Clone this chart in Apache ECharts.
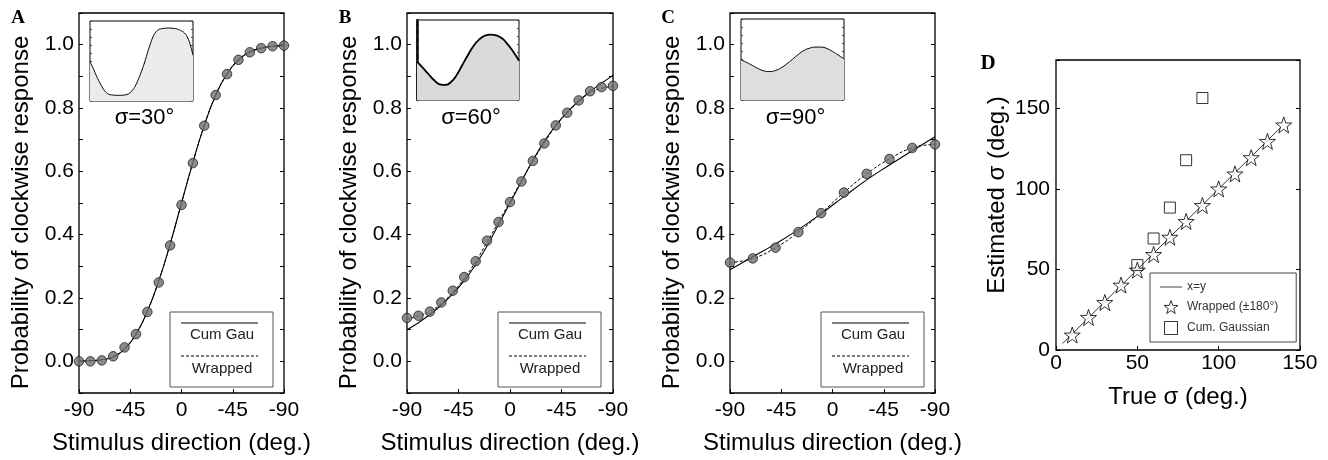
<!DOCTYPE html>
<html>
<head>
<meta charset="utf-8">
<script src="https://cdn.jsdelivr.net/npm/echarts@6/dist/echarts.min.js"></script>
<style>
html,body{margin:0;padding:0;background:#fff;}
#chart{width:1328px;height:460px;}
</style>
</head>
<body>
<div id="chart"></div>
<script>
// ---------------- DATA ----------------
const xTickValues = [-90, -45, 0, 45, 90];
const xTickLabels = ['-90', '-45', '0', '-45', '-90'];

const dirA = [-90,-80,-70,-60,-50,-40,-30,-20,-10,0,10,20,30,40,50,60,70,80,90];
const probA = [0.0,0.0,0.003,0.016,0.044,0.086,0.156,0.249,0.366,0.494,0.626,0.744,0.841,0.907,0.952,0.976,0.989,0.995,0.997];
const cumA  = [0.001,0.002,0.005,0.014,0.040,0.086,0.158,0.254,0.370,0.500,0.628,0.745,0.840,0.908,0.952,0.977,0.989,0.995,0.997];
const wrapA = [0.001,0.002,0.005,0.014,0.040,0.086,0.158,0.254,0.370,0.500,0.628,0.745,0.840,0.908,0.952,0.977,0.989,0.995,0.997];

const dirB = [-90,-80,-70,-60,-50,-40,-30,-20,-10,0,10,20,30,40,50,60,70,80,90];
const probB = [0.137,0.144,0.157,0.186,0.223,0.266,0.316,0.381,0.440,0.503,0.568,0.633,0.688,0.745,0.785,0.824,0.853,0.866,0.870];
const cumB  = [0.100,0.122,0.148,0.178,0.213,0.255,0.305,0.365,0.432,0.500,0.568,0.635,0.695,0.745,0.787,0.822,0.852,0.878,0.903];
const wrapB = [0.133,0.143,0.158,0.183,0.218,0.262,0.315,0.377,0.440,0.505,0.570,0.633,0.690,0.743,0.785,0.820,0.848,0.862,0.868];

const dirC = [-90,-70,-50,-30,-10,10,30,50,70,90];
const probC = [0.312,0.325,0.359,0.408,0.468,0.533,0.592,0.639,0.674,0.685];
const cumC  = [0.289,0.330,0.371,0.416,0.466,0.520,0.573,0.620,0.665,0.709];
const wrapC = [0.312,0.325,0.359,0.408,0.468,0.533,0.592,0.639,0.674,0.685];

const insetDegA = [-180,-170,-160,-150,-140,-130,-120,-110,-100,-90,-80,-70,-60,-50,-40,-30,-20,-10,0,10,20,30,40,50,60,70,80,90,100,110,120,130,140,150,160,170,180];
const insetA = [0.488,0.417,0.333,0.258,0.192,0.133,0.096,0.079,0.075,0.071,0.071,0.071,0.075,0.083,0.104,0.142,0.200,0.279,0.371,0.475,0.592,0.704,0.800,0.862,0.892,0.904,0.908,0.912,0.912,0.908,0.904,0.892,0.875,0.850,0.800,0.708,0.571];
const insetDeg = [-180,-160,-140,-120,-100,-80,-60,-40,-20,0,20,40,60,80,100,120,140,160,180];
const insetB = [0.479,0.404,0.325,0.250,0.196,0.188,0.225,0.313,0.438,0.563,0.679,0.758,0.804,0.817,0.808,0.771,0.696,0.604,0.490];
const insetC = [0.496,0.463,0.426,0.388,0.360,0.351,0.364,0.397,0.446,0.504,0.562,0.612,0.640,0.653,0.653,0.636,0.599,0.554,0.508];
const sigmaLabels = ['σ=30°', 'σ=60°', 'σ=90°'];
const panelLetters = ['A', 'B', 'C', 'D'];

const trueSigma = [10,20,30,40,50,60,70,80,90,100,110,120,130,140];
const estWrapped = [9.3,20.2,29.5,40.3,49.6,59.3,70.0,79.8,89.7,100.0,109.3,119.4,129.5,139.7];
const trueSigmaG = [50,60,70,80,90];
const estGauss = [52.7,69.2,88.4,117.8,156.4];
const identityX = [4,140];
const legendNamesD = ['x=y', 'Wrapped (±180°)', 'Cum. Gaussian'];
const legendNamesABC = ['Cum Gau', 'Wrapped'];

// ---------------- LAYOUT ----------------
const FONT = '"Liberation Sans", Arial, Helvetica, sans-serif';
const mainGrids = [
  {left: 79, top: 13, width: 205, height: 382},
  {left: 407, top: 13, width: 206, height: 382},
  {left: 730, top: 13, width: 205, height: 382}
];
const gridD = {left: 1056, top: 60, width: 244, height: 290};
const insetGrids = [
  {left: 90, top: 21, width: 103, height: 80},
  {left: 417, top: 20, width: 102, height: 80},
  {left: 741, top: 19, width: 103, height: 81}
];
const insetFill = ['#ebebeb', '#dadada', '#dedede'];
const insetLW = [1, 1.8, 1];

const zip = (xs, ys) => xs.map((x, i) => [x, ys[i]]);

const grids = [];
const xAxes = [];
const yAxes = [];
const series = [];
const graphics = [];
const noLine = {show: false, onZero: false};

// main panels A-C
mainGrids.forEach((g, i) => {
  grids.push(Object.assign({show: true, borderColor: '#000', borderWidth: 1.3, backgroundColor: 'transparent'}, g));
  xAxes.push({
    type: 'value', gridIndex: i, min: -90, max: 90, interval: 45, position: 'bottom',
    axisLine: noLine,
    axisTick: {show: true, inside: true, length: 4, lineStyle: {color: '#000'}},
    splitLine: {show: false},
    axisLabel: {fontSize: 21, color: '#000', fontFamily: FONT, margin: 7,
      formatter: v => { const k = xTickValues.indexOf(Math.round(v)); return k >= 0 ? xTickLabels[k] : ''; }},
    name: 'Stimulus direction (deg.)', nameLocation: 'middle', nameGap: 38,
    nameTextStyle: {fontSize: 24, color: '#000', fontFamily: FONT}
  });
});
// D
grids.push(Object.assign({show: true, borderColor: '#000', borderWidth: 1.3, backgroundColor: 'transparent'}, gridD));
xAxes.push({
  type: 'value', gridIndex: 3, min: 0, max: 150, interval: 50, position: 'bottom',
  axisLine: noLine,
  axisTick: {show: true, inside: true, length: 4, lineStyle: {color: '#000'}},
  splitLine: {show: false},
  axisLabel: {fontSize: 21, color: '#000', fontFamily: FONT, margin: 3},
  name: 'True σ (deg.)', nameLocation: 'middle', nameGap: 35,
  nameTextStyle: {fontSize: 24, color: '#000', fontFamily: FONT}
});
// insets
insetGrids.forEach((g, i) => {
  grids.push(Object.assign({show: true, borderColor: '#000', borderWidth: 1, backgroundColor: '#fff'}, g));
  xAxes.push({
    type: 'value', gridIndex: 4 + i, min: -180, max: 180, position: 'bottom',
    axisLine: noLine, axisTick: {show: false}, axisLabel: {show: false}, splitLine: {show: false}
  });
});

// y axes main A-C (0..2)
mainGrids.forEach((g, i) => {
  yAxes.push({
    type: 'value', gridIndex: i, min: -0.1, max: 1.1, interval: 0.1, position: 'left',
    axisLine: noLine,
    axisTick: {show: true, inside: true, length: 4, lineStyle: {color: '#000'}},
    splitLine: {show: false},
    axisLabel: {fontSize: 21, color: '#000', fontFamily: FONT, margin: 5,
      formatter: v => { const k = Math.round(v * 10); return (k % 2 === 0 && k >= 0 && k <= 10) ? (k / 10).toFixed(1) : ''; }},
    name: 'Probability of clockwise response', nameLocation: 'middle', nameGap: 46,
    nameTextStyle: {fontSize: 24, color: '#000', fontFamily: FONT, padding: [0, 19, 0, 0]}
  });
});
// y D (3)
yAxes.push({
  type: 'value', gridIndex: 3, min: 0, max: 180, interval: 50, position: 'left',
  axisLine: noLine,
  axisTick: {show: true, inside: true, length: 4, lineStyle: {color: '#000'}},
  splitLine: {show: false},
  axisLabel: {fontSize: 21, color: '#000', fontFamily: FONT, margin: 6,
    formatter: v => (Math.round(v) % 50 === 0 ? String(Math.round(v)) : '')},
  name: 'Estimated σ (deg.)', nameLocation: 'middle', nameGap: 47,
  nameTextStyle: {fontSize: 24, color: '#000', fontFamily: FONT, padding: [0, 0, 0, 20]}
});
// y insets (4..6)
insetGrids.forEach((g, i) => {
  yAxes.push({
    type: 'value', gridIndex: 4 + i, min: 0, max: 1, interval: 0.1, position: 'left',
    axisLine: {show: i === 1, onZero: false, lineStyle: {color: '#000', width: 2.5}},
    axisTick: {show: true, inside: true, length: 2, lineStyle: {color: '#444'}},
    axisLabel: {show: false}, splitLine: {show: false}
  });
});
// right-side tick axes for A-C (7..9)
mainGrids.forEach((g, i) => {
  yAxes.push({
    type: 'value', gridIndex: i, position: 'right', min: -0.1, max: 1.1, interval: 0.1,
    axisLine: noLine,
    axisTick: {show: true, inside: true, length: 4, lineStyle: {color: '#000'}},
    axisLabel: {show: false}, splitLine: {show: false}
  });
});
// right ticks D (10)
yAxes.push({
  type: 'value', gridIndex: 3, position: 'right', min: 0, max: 180, interval: 50,
  axisLine: noLine,
  axisTick: {show: true, inside: true, length: 4, lineStyle: {color: '#000'}},
  axisLabel: {show: false}, splitLine: {show: false}
});
// right ticks insets (11..13)
insetGrids.forEach((g, i) => {
  yAxes.push({
    type: 'value', gridIndex: 4 + i, position: 'right', min: 0, max: 1, interval: 0.1,
    axisLine: noLine,
    axisTick: {show: true, inside: true, length: 2, lineStyle: {color: '#444'}},
    axisLabel: {show: false}, splitLine: {show: false}
  });
});

// series A-C
const panelData = [
  {dir: dirA, prob: probA, cum: cumA, wrap: wrapA},
  {dir: dirB, prob: probB, cum: cumB, wrap: wrapB},
  {dir: dirC, prob: probC, cum: cumC, wrap: wrapC}
];
panelData.forEach((p, i) => {
  series.push({
    type: 'line', xAxisIndex: i, yAxisIndex: i, data: zip(p.dir, p.cum), smooth: true,
    showSymbol: false, symbol: 'none', lineStyle: {color: '#000', width: 1.1}, z: 2, silent: true
  });
  series.push({
    type: 'line', xAxisIndex: i, yAxisIndex: i, data: zip(p.dir, p.wrap), smooth: true,
    showSymbol: false, symbol: 'none', lineStyle: {color: '#000', width: 1, type: [3, 2]}, z: 2, silent: true
  });
  series.push({
    type: 'scatter', xAxisIndex: i, yAxisIndex: i, data: zip(p.dir, p.prob), symbol: 'circle', symbolSize: 9.5,
    itemStyle: {color: '#6f6f6f', borderColor: '#222', borderWidth: 1}, z: 3, silent: true
  });
});
// insets
const insetSeries = [zip(insetDegA, insetA), zip(insetDeg, insetB), zip(insetDeg, insetC)];
insetSeries.forEach((d, i) => {
  series.push({
    type: 'line', xAxisIndex: 4 + i, yAxisIndex: 4 + i, data: d, smooth: true, showSymbol: false, symbol: 'none',
    lineStyle: {color: '#000', width: insetLW[i]}, areaStyle: {color: insetFill[i], opacity: 1, origin: 'start'}, silent: true
  });
});
// D
const starPath = 'path://M50,2 L61.8,36.2 L97.6,36.4 L69,58 L79.4,92.2 L50,71.6 L20.6,92.2 L31,58 L2.4,36.4 L38.2,36.2 Z';
const squarePath = 'path://M0,0 L10,0 L10,10 L0,10 Z';
series.push({
  name: legendNamesD[0], type: 'line', xAxisIndex: 3, yAxisIndex: 3, data: identityX.map(v => [v, v]),
  symbol: 'none', showSymbol: false, lineStyle: {color: '#333', width: 1}, itemStyle: {color: '#555'}, silent: true
});
series.push({
  name: legendNamesD[1], type: 'scatter', xAxisIndex: 3, yAxisIndex: 3, data: zip(trueSigma, estWrapped),
  symbol: starPath, symbolSize: 16, itemStyle: {color: '#fff', borderColor: '#000', borderWidth: 1}, z: 3, silent: true
});
series.push({
  name: legendNamesD[2], type: 'scatter', xAxisIndex: 3, yAxisIndex: 3, data: zip(trueSigmaG, estGauss),
  symbol: 'rect', symbolSize: 11, itemStyle: {color: 'rgba(255,255,255,0)', borderColor: '#000', borderWidth: 1}, z: 3, silent: true
});

// graphics: legends A-C, sigma labels, panel letters
mainGrids.forEach((g, i) => {
  const bx = g.left + 91, by = 312, bw = 103, bh = 75;
  graphics.push({type: 'rect', shape: {x: bx, y: by, width: bw, height: bh}, style: {fill: 'none', stroke: '#555', lineWidth: 1}, silent: true});
  graphics.push({type: 'line', shape: {x1: bx + 11, y1: by + 11, x2: bx + 88, y2: by + 11}, style: {stroke: '#000', lineWidth: 1}, silent: true});
  graphics.push({type: 'text', x: bx + 52, y: by + 23, style: {text: legendNamesABC[0], font: '15px ' + FONT, fill: '#222', align: 'center', verticalAlign: 'middle'}, silent: true});
  graphics.push({type: 'line', shape: {x1: bx + 11, y1: by + 44, x2: bx + 88, y2: by + 44}, style: {stroke: '#000', lineWidth: 1, lineDash: [3, 2]}, silent: true});
  graphics.push({type: 'text', x: bx + 52, y: by + 57, style: {text: legendNamesABC[1], font: '15px ' + FONT, fill: '#222', align: 'center', verticalAlign: 'middle'}, silent: true});
  const ig = insetGrids[i];
  graphics.push({type: 'text', x: ig.left + ig.width / 2 + 3, y: 118, style: {text: sigmaLabels[i], font: '22px ' + FONT, fill: '#000', align: 'center', verticalAlign: 'middle'}, silent: true});
});
const letterPos = [[18, 18], [345, 18], [668, 18], [988, 64]];
panelLetters.forEach((t, i) => {
  graphics.push({type: 'text', x: letterPos[i][0], y: letterPos[i][1], style: {text: t, font: 'bold ' + (i === 3 ? 21 : 19) + 'px "Liberation Serif", "Times New Roman", serif', fill: '#000', align: 'center', verticalAlign: 'middle'}, silent: true});
});

const option = {
  animation: false,
  backgroundColor: '#fff',
  textStyle: {fontFamily: FONT},
  grid: grids,
  xAxis: xAxes,
  yAxis: yAxes,
  legend: {
    show: true, left: 1150, top: 273, orient: 'vertical',
    data: [
      {name: legendNamesD[0], icon: 'path://M0,0 L100,0 L100,5 L0,5 Z', itemStyle: {color: '#555', borderWidth: 0}},
      {name: legendNamesD[1], icon: starPath, itemStyle: {color: '#fff', borderColor: '#000', borderWidth: 1}},
      {name: legendNamesD[2], icon: squarePath, itemStyle: {color: '#fff', borderColor: '#000', borderWidth: 1}}
    ],
    itemWidth: 22, itemHeight: 13, itemGap: 7, padding: [8, 18, 7, 10],
    borderColor: '#444', borderWidth: 1, backgroundColor: '#fff',
    textStyle: {fontSize: 12, color: '#333', fontFamily: FONT}, selectedMode: false
  },
  series: series,
  graphic: graphics
};
const chart = echarts.init(document.getElementById('chart'), null, {renderer: 'canvas'});
chart.setOption(option);
</script>
</body>
</html>
